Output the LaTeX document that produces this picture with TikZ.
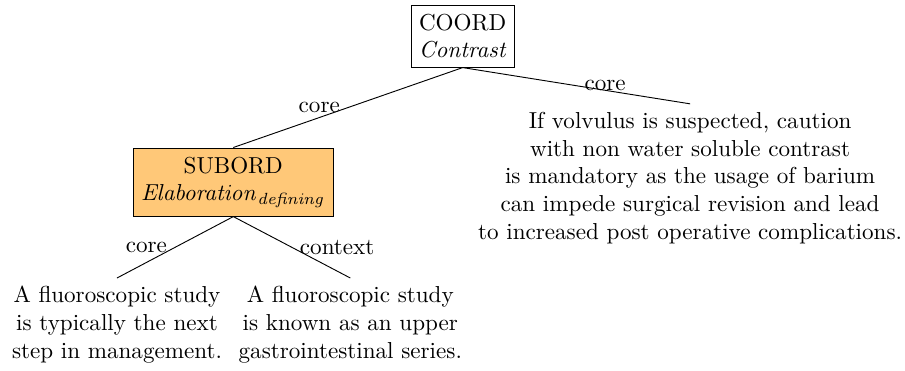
\documentclass[tikz,border=0pt]{standalone}
\definecolor{subordfill}{RGB}{255,200,120}
\begin{document}
\begin{tikzpicture}
        \tikzset{relbox/.style = {draw, align=center, inner ysep=3.8pt},
                 leaf/.style = {align=center, anchor=north}}
        \useasboundingbox (0, 0) rectangle (13.77, -5.63);

        \node[relbox, anchor=north] (coord) at (7.04, -0.07) {COORD\\ \textit{Contrast}};
        \node[relbox, fill=subordfill] (subord) at (3.55, -2.77) {SUBORD\\ $\mathit{Elaboration}_{\mathit{defining}}$};

        \node[leaf] (volvulus) at (10.50, -1.58) {If volvulus is suspected, caution\\ with non water soluble contrast\\ is mandatory as the usage of barium\\ can impede surgical revision and lead\\ to increased post operative complications.};

        \node[leaf] (study) at (1.78, -4.23) {A fluoroscopic study\\ is typically the next\\ step in management.};
        \node[leaf] (series) at (5.33, -4.23) {A fluoroscopic study\\ is known as an upper\\ gastrointestinal series.};

        \draw (coord.south) edge node[left] {core} (subord.north);
        \draw (coord.south) edge node[right] {core} (volvulus.north);

        \draw (subord.south) edge node[left] {core} (study.north);
        \draw (subord.south) edge node[right] {context} (series.north);

    \end{tikzpicture}
\end{document}
